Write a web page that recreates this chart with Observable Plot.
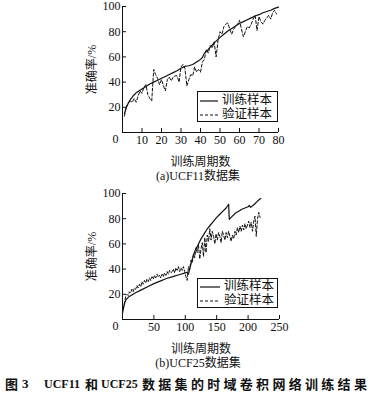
<!DOCTYPE html>
<html><head><meta charset="utf-8">
<script src="https://cdn.jsdelivr.net/npm/d3@7"></script>
<script src="https://cdn.jsdelivr.net/npm/@observablehq/plot@0.6"></script>
<style>
html,body{margin:0;padding:0;background:#fff;}
body{width:373px;height:397px;position:relative;overflow:hidden;font-family:"Liberation Serif","Noto Sans CJK SC",serif;color:#111;}
.chart{position:absolute;left:0;}
.sub{position:absolute;left:0;width:400px;text-align:center;font-size:12px;line-height:14px;}
.legend{position:absolute;border:1px solid #111;box-sizing:border-box;background:#fff;font-family:"Liberation Serif","Noto Sans CJK SC",serif;font-size:12.5px;}
.legend .row{position:absolute;left:2px;height:14px;line-height:14px;white-space:nowrap;}
.legend svg{vertical-align:middle;margin-right:4px;}
.cap{position:absolute;left:0;top:376px;width:373px;height:18px;font-weight:bold;line-height:16px;white-space:nowrap;}
.cap span{position:absolute;top:0;}
.cap .zh{font-family:"Noto Sans CJK SC",sans-serif;font-size:13px;}
.cap .la{font-family:"Liberation Serif",serif;font-size:12px;}
</style>
</head><body>
<div id="a" class="chart" style="top:0"></div>
<div class="sub" style="top:169px;left:-2px;">(a)UCF11数据集</div>
<div id="b" class="chart" style="top:187px"></div>
<div class="sub" style="top:356px;left:-2px;">(b)UCF25数据集</div>
<div class="legend" style="left:197px;top:91px;width:81px;height:31px;">
  <div class="row" style="top:1px"><svg width="18" height="4"><line x1="0" x2="18" y1="2" y2="2" stroke="#111" stroke-width="1.2"/></svg>训练样本</div>
  <div class="row" style="top:15px"><svg width="18" height="4"><line x1="0" x2="18" y1="2" y2="2" stroke="#111" stroke-width="1" stroke-dasharray="3,2"/></svg>验证样本</div>
</div>
<div class="legend" style="left:197px;top:278px;width:81px;height:30px;">
  <div class="row" style="top:0px"><svg width="20" height="4"><line x1="0" x2="20" y1="2" y2="2" stroke="#111" stroke-width="1.2"/></svg>训练样本</div>
  <div class="row" style="top:14px"><svg width="20" height="4"><line x1="0" x2="20" y1="2" y2="2" stroke="#111" stroke-width="1" stroke-dasharray="3,2"/></svg>验证样本</div>
</div>
<div class="cap"><span class="zh" style="left:5px">图</span><span class="la" style="left:22px;font-size:13px">3</span><span class="la" style="left:44px">UCF11</span><span class="zh" style="left:85px">和</span><span class="la" style="left:101px">UCF25</span><span class="zh" style="left:142px;letter-spacing:3.3px">数据集的时域卷积网络训练结果</span></div>
<script>
// ---------- data ----------
const seriesNames = ["训练样本", "验证样本"];
const yTicks = [20, 40, 60, 80, 100];
const xTicksA = [0, 10, 20, 30, 40, 50, 60, 70, 80];
const xTicksB = [0, 50, 100, 150, 200, 250];

// (a) UCF11
const aTrainX = [1,2,3,4,5,6,7,8,9,10,12,14,16,18,20,22,24,26,28,30,32,34,36,38,40,41,42,44,46,48,50,52,54,56,58,60,62,64,66,68,70,72,74,76,78,80];
const aTrainY = [15,20,23.5,26,28,30,31.5,32.5,33.5,34.5,36.5,38.5,40,41.5,43,44.5,46,47.5,49,51,52.5,53,54,56,58,59.5,63,66,69.5,72.5,75.5,78,80.5,82.5,84.5,86.5,88,89.5,91,92.5,93.5,95,96,97,98.5,99.5];
const aValX = [1,2,3,4,5,6,7,8,9,10,11,12,13,14,15,16,17,18,19,20,21,22,23,24,25,26,27,28,29,30,31,32,33,34,35,36,37,38,39,40,41,42,43,44,45,46,47,48,49,50,51,52,53,54,55,56,57,58,59,60,61,62,63,64,65,66,67,68,69,70,71,72,73,74,75,76,77,78,79];
const aValY = [13,21,23,25,24,27,24,29,33,31,36,38,30,27,25,50,46,43,38,42,37,33,42,44,41,44,45,45,40,52,54,51,37,42,46,45,52,48,50,48,56,58,66,63,69,67,72,60,73,80,78,84,86,87,82,78,82,84,86,89,82,76,80,84,83,86,90,93,81,92,88,86,89,91,93,90,95,97,94];

// (b) UCF25
const bTrainX = [0,2,4,6,10,15,20,30,40,50,60,70,80,90,100,103,105,107,110,115,120,125,130,135,140,145,150,155,160,165,169,170,175,180,185,190,195,200,202,204,210,215,220];
const bTrainY = [5,10,14,16,18,19.5,21,23.5,26,28.5,30.5,32.5,34,35.5,37,37.5,36,40,46,54,59,64,68,72,75,78,81,83.5,86,88.5,91.5,79.5,82,84.5,86,87.5,88.5,89.5,90.5,89,91.5,94,96];
const bValX = [1,3,5,7,9,11,13,15,17,19,21,23,25,27,29,31,33,35,37,39,41,43,45,47,49,51,53,55,57,59,61,63,65,67,69,71,73,75,77,79,81,83,85,87,89,91,93,95,97,99,101,103,105,107,109,111,113,115,117,119,121,123,125,127,129,131,133,135,137,139,141,143,145,147,149,151,153,155,157,159,161,163,165,167,169,171,173,175,177,179,181,183,185,187,189,191,193,195,197,199,201,203,205,207,209,211,213,215,217,219];
const bValY = [8,13,18,20,19,22,21,24,22,25,24,27,25,28,26,30,28,31,29,32,30,33,31,34,32,35,33,36,34,35,33,36,34,37,35,38,36,39,37,38,40,37,41,39,42,38,41,39,42,38,34,31,42,40,47,45,52,49,57,53,59,48,56,61,50,65,53,67,62,72,63,70,66,60,68,63,69,66,61,70,67,63,69,65,70,66,62,67,64,70,67,73,69,74,70,75,71,76,72,75,78,73,77,70,78,82,66,80,85,81];

const toRows = (xs, ys) => xs.map((x, i) => ({x, y: ys[i]}));

function chart({train, val, xDomain, xTicks, marginRight}) {
  return Plot.plot({
    width: 373,
    height: 172,
    marginLeft: 122,
    marginRight,
    marginTop: 6,
    marginBottom: 40,
    style: {fontFamily: '"Liberation Serif","Noto Sans CJK SC",serif', fontSize: "12px", color: "#111", background: "transparent"},
    x: {domain: xDomain},
    y: {domain: [0, 100]},
    marks: [
      Plot.line(val, {x: "x", y: "y", stroke: "#111", strokeWidth: 1, strokeDasharray: "3,2"}),
      Plot.line(train, {x: "x", y: "y", stroke: "#111", strokeWidth: 1.2}),
      Plot.ruleY([0], {stroke: "#111", strokeWidth: 1}),
      Plot.ruleX([0], {stroke: "#111", strokeWidth: 1}),
      Plot.axisX(xTicks, {anchor: "bottom", tickSize: -4, tickPadding: 7, tickFormat: d => d === 0 ? "" : String(d),
        label: "训练周期数", labelAnchor: "center", labelOffset: 33, labelArrow: "none", fontSize: 12}),
      Plot.text(["0"], {frameAnchor: "bottom-left", text: d => d, dx: -10, dy: 10, fontSize: 12}),
      Plot.axisY(yTicks, {anchor: "left", tickSize: -4, tickPadding: 6,
        label: "准确率/%", labelAnchor: "center", labelOffset: 35, labelArrow: "none", fontSize: 12})
    ]
  });
}

document.getElementById("a").append(chart({
  train: toRows(aTrainX, aTrainY), val: toRows(aValX, aValY),
  xDomain: [0, 80], xTicks: xTicksA, marginRight: 95
}));
document.getElementById("b").append(chart({
  train: toRows(bTrainX, bTrainY), val: toRows(bValX, bValY),
  xDomain: [0, 250], xTicks: xTicksB, marginRight: 94
}));
</script>
</body></html>
